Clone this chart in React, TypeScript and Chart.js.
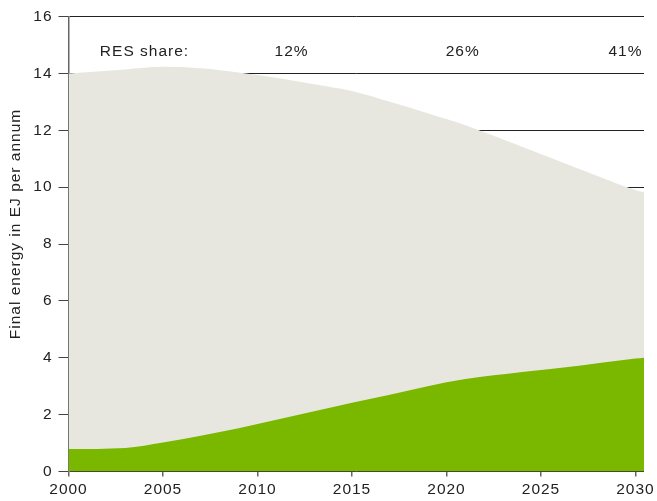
import React, { useEffect, useRef } from "react";
import { Chart, registerables } from "chart.js";

Chart.register(...registerables);

const years = [2000, 2003, 2005, 2007, 2009, 2011, 2013, 2015, 2017, 2019, 2021, 2024, 2027, 2030, 2030.45];
const totalEnergy = [14.0, 14.14, 14.23, 14.18, 14.03, 13.85, 13.62, 13.38, 13.0, 12.6, 12.18, 11.42, 10.65, 9.9, 9.82];
const resEnergy = [0.79, 0.83, 1.02, 1.26, 1.52, 1.82, 2.12, 2.42, 2.7, 3.0, 3.25, 3.5, 3.72, 3.97, 4.0];
const yTicks = [0, 2, 4, 6, 8, 10, 12, 14, 16];
const xTicks = [2000, 2005, 2010, 2015, 2020, 2025, 2030];
const yTitle = "Final energy in EJ per annum";
const shareTitle = "RES share:";
const shareTitleYear = 2001.66;
const shareLabels = ["12%", "26%", "41%"];
const shareYears = [2011.8, 2020.86, 2030.37];
const shareLevel = 14.77;

const FONT = "'Liberation Sans', Arial, sans-serif";
const FSIZE = 15.5;
const SPACING = "1px";

export default function App() {
  const ref = useRef<HTMLCanvasElement | null>(null);
  useEffect(() => {
    if (!ref.current) return;
    const spacing = {
      id: "spacing",
      beforeUpdate(chart: any) {
        (chart.ctx as any).letterSpacing = SPACING;
      },
      beforeDraw(chart: any) {
        (chart.ctx as any).letterSpacing = SPACING;
      },
    };
    const annot = {
      id: "annot",
      afterDatasetsDraw(chart: any) {
        const ctx = chart.ctx;
        const xs = chart.scales.x;
        const ys = chart.scales.y;
        const area = chart.chartArea;
        ctx.save();
        (ctx as any).letterSpacing = SPACING;
        ctx.font = `${FSIZE}px ${FONT}`;
        ctx.fillStyle = "#222";
        ctx.textBaseline = "middle";
        const yPix = ys.getPixelForValue(shareLevel);
        ctx.textAlign = "left";
        ctx.fillText(shareTitle, xs.getPixelForValue(shareTitleYear), yPix);
        shareLabels.forEach((t, i) => {
          ctx.textAlign = i === shareLabels.length - 1 ? "right" : "center";
          ctx.fillText(t, xs.getPixelForValue(shareYears[i]), yPix);
        });
        // y-axis title
        ctx.save();
        ctx.translate(16, (area.top + area.bottom) / 2 - 20);
        ctx.rotate(-Math.PI / 2);
        ctx.textAlign = "center";
        ctx.fillText(yTitle, 0, 0);
        ctx.restore();
        ctx.restore();
      },
    };
    const chart = new Chart(ref.current, {
      type: "line",
      data: {
        datasets: [
          {
            label: "RES",
            data: years.map((x, i) => ({ x, y: resEnergy[i] })),
            backgroundColor: "#7ab800",
            borderWidth: 0,
            pointRadius: 0,
            fill: "origin",
            cubicInterpolationMode: "monotone",
          },
          {
            label: "Total",
            data: years.map((x, i) => ({ x, y: totalEnergy[i] })),
            backgroundColor: "#e8e7df",
            borderWidth: 0,
            pointRadius: 0,
            fill: "origin",
            cubicInterpolationMode: "monotone",
          },
        ],
      },
      options: {
        animation: false,
        responsive: true,
        maintainAspectRatio: false,
        layout: { padding: { top: 16.5, right: 13, left: 0, bottom: 0 } },
        plugins: { legend: { display: false }, tooltip: { enabled: false } },
        scales: {
          x: {
            type: "linear",
            min: 2000,
            max: 2030.45,
            afterBuildTicks: (s: any) => {
              s.ticks = xTicks.map((v) => ({ value: v }));
            },
            afterFit: (s: any) => {
              s.height = 29.5;
              s.paddingRight = 0;
              s.paddingLeft = 0;
            },
            grid: { drawOnChartArea: false, drawTicks: true, tickLength: 5, tickColor: "#666", lineWidth: 1.5 },
            border: { display: false },
            ticks: { color: "#222", font: { family: FONT, size: FSIZE }, padding: 4, maxRotation: 0, autoSkip: false, callback: (v: any) => String(v) },
          },
          y: {
            min: 0,
            max: 16,
            afterBuildTicks: (s: any) => {
              s.ticks = yTicks.map((v) => ({ value: v }));
            },
            afterFit: (s: any) => {
              s.width = 68.5;
            },
            grid: { color: "#222", lineWidth: 1, tickLength: 10, tickColor: "#444" },
            border: { display: true, color: "#666", width: 1.5 },
            ticks: { color: "#222", font: { family: FONT, size: FSIZE }, padding: 6 },
          },
        },
      },
      plugins: [spacing, annot],
    });
    return () => chart.destroy();
  }, []);
  return (
    <div style={{ position: "absolute", left: 0, top: 0, width: 657, height: 501 }}>
      <canvas ref={ref} />
    </div>
  );
}
